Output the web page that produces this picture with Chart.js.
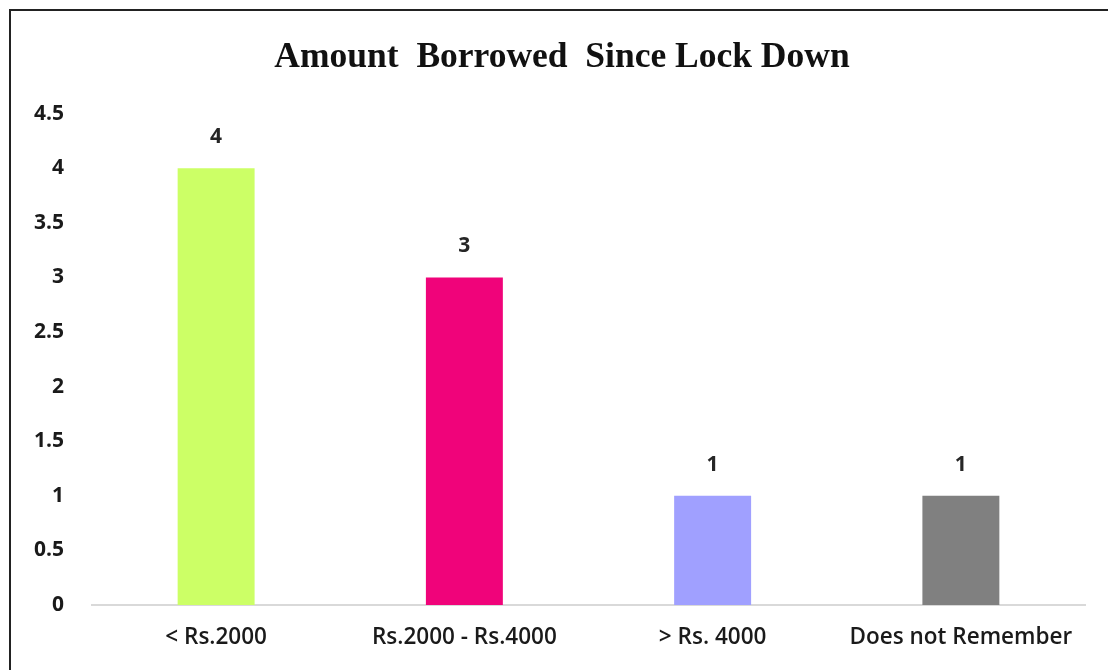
<!DOCTYPE html>
<html>
<head>
<meta charset="utf-8">
<script src="https://cdn.jsdelivr.net/npm/chart.js@4/dist/chart.umd.min.js"></script>
<style>
  html, body { margin: 0; padding: 0; background: #fff; }
  #wrap { position: relative; width: 1108px; height: 670px; overflow: hidden; }
  #frame { position: absolute; left: 9px; top: 9px; width: 1200px; height: 800px;
           border-left: 2px solid #222; border-top: 2px solid #222; }
  #chart { position: absolute; left: 0; top: 0; }
</style>
</head>
<body>
<div id="wrap">
  <div id="frame"></div>
  <canvas id="chart" width="1108" height="670"></canvas>
</div>
<script>
const categories = ['< Rs.2000', 'Rs.2000 - Rs.4000', '> Rs. 4000', 'Does not Remember'];
const borrowed = [4, 3, 1, 1];
const barColours = ['#ccff66', '#f0037a', '#a0a0ff', '#808080'];

// draws the value above each bar
const valueLabels = {
    id: 'valueLabels',
    afterDatasetsDraw(chart) {
        const ctx = chart.ctx;
        const meta = chart.getDatasetMeta(0);
        ctx.save();
        ctx.font = 'bold 21px "Open Sans"';
        ctx.fillStyle = '#262626';
        ctx.textAlign = 'center';
        ctx.textBaseline = 'middle';
        meta.data.forEach(function (bar, i) {
            ctx.fillText(String(chart.data.datasets[0].data[i]), bar.x, bar.y - 31);
        });
        ctx.restore();
    }
};

new Chart(document.getElementById('chart'), {
    type: 'bar',
    data: {
        labels: categories,
        datasets: [{
            data: borrowed,
            backgroundColor: barColours,
            categoryPercentage: 1,
            barPercentage: 0.31
        }]
    },
    options: {
        responsive: false,
        animation: false,
        layout: { padding: { left: 16, right: 0, top: 0, bottom: 0 } },
        plugins: {
            legend: { display: false },
            tooltip: { enabled: false },
            title: {
                display: true,
                text: 'Amount  Borrowed  Since Lock Down',
                color: '#111',
                font: { family: 'Liberation Serif', size: 35.5, weight: 'bold' },
                padding: { top: 37, bottom: 34 }
            }
        },
        scales: {
            x: {
                grid: { display: false, drawTicks: false },
                border: { display: true, color: '#d9d9d9', width: 2 },
                ticks: {
                    color: '#1a1a1a',
                    font: { family: 'Open Sans', size: 22.5, weight: '600' },
                    padding: 19,
                    maxRotation: 0
                }
            },
            y: {
                min: 0,
                max: 4.5,
                grid: { display: false, drawTicks: false },
                border: { display: false },
                afterFit(scale) { scale.width = 76; },
                ticks: {
                    stepSize: 0.5,
                    color: '#1a1a1a',
                    crossAlign: 'near',
                    padding: 28,
                    font: { family: 'Open Sans', size: 21, weight: 'bold' },
                    callback: function (value) { return String(value); }
                }
            },
            // empty axis that only keeps a right margin beside the plot
            yRight: {
                position: 'right',
                grid: { display: false, drawTicks: false },
                border: { display: false },
                ticks: { display: false },
                afterFit(scale) { scale.width = 23; }
            }
        }
    },
    plugins: [valueLabels]
});
</script>
</body>
</html>
